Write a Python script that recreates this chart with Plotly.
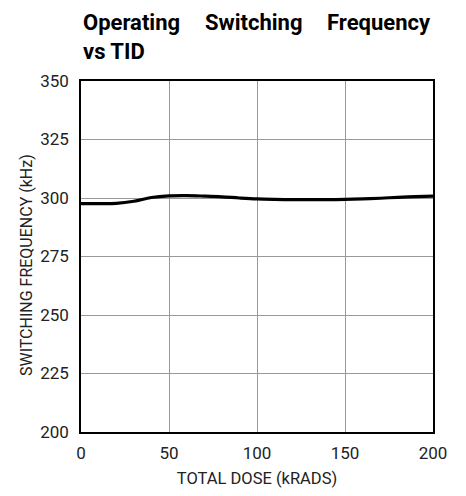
import plotly.graph_objects as go

dose_krad = [0, 10, 20, 30, 40, 50, 60, 70, 80, 90, 100, 110, 120, 130, 140, 150, 160, 170, 180, 190, 200]
freq_khz = [297.6, 297.6, 297.7, 298.6, 300.2, 300.9, 301.0, 300.8, 300.5, 300.0, 299.6,
            299.4, 299.3, 299.3, 299.3, 299.4, 299.6, 299.9, 300.3, 300.6, 300.8]
x_ticks = [0, 50, 100, 150, 200]
y_ticks = [200, 225, 250, 275, 300, 325, 350]

FONT = "Roboto, sans-serif"

fig = go.Figure()
fig.add_trace(go.Scatter(x=dose_krad, y=freq_khz, mode="lines",
                         line=dict(color="black", width=3.2, shape="spline", smoothing=1.0),
                         showlegend=False, hoverinfo="skip"))

fig.update_layout(
    width=458, height=488,
    margin=dict(l=73, r=33, t=73, b=64),
    paper_bgcolor="white", plot_bgcolor="white",
    font=dict(family=FONT, size=16, color="#222"),
    xaxis=dict(range=[0, 200], tickvals=x_ticks, showgrid=True, gridcolor="#999", gridwidth=1,
               zeroline=False, showline=True, linecolor="black", linewidth=1.5, mirror=True,
               ticks="", ticklabelstandoff=5, tickfont=dict(size=17),
               title=dict(text="TOTAL DOSE (kRADS)", font=dict(size=16.5), standoff=10)),
    yaxis=dict(range=[200, 350], tickvals=y_ticks, showgrid=True, gridcolor="#999", gridwidth=1,
               zeroline=False, showline=True, linecolor="black", linewidth=1.5, mirror=True,
               ticks="", ticklabelstandoff=7, tickfont=dict(size=17)),
)

fig.add_annotation(text="SWITCHING FREQUENCY (kHz)", xref="paper", yref="paper", x=-0.153, y=0.476,
                   xanchor="center", yanchor="middle", textangle=-90, showarrow=False,
                   font=dict(family=FONT, size=16, color="#222"))

title_font = dict(family=FONT, size=22, color="black")
fig.add_annotation(text="<b>Operating</b>", xref="paper", yref="paper", x=0, y=1.0, yshift=59,
                   xanchor="left", yanchor="middle", showarrow=False, font=title_font)
fig.add_annotation(text="<b>Switching</b>", xref="paper", yref="paper", x=0.347, y=1.0, yshift=59,
                   xanchor="left", yanchor="middle", showarrow=False, font=title_font)
fig.add_annotation(text="<b>Frequency</b>", xref="paper", yref="paper", x=1.0, y=1.0, yshift=59,
                   xanchor="right", yanchor="middle", showarrow=False, font=title_font)
fig.add_annotation(text="<b>vs TID</b>", xref="paper", yref="paper", x=0, y=1.0, yshift=30,
                   xanchor="left", yanchor="middle", showarrow=False, font=title_font)

fig.write_html("out.html")
